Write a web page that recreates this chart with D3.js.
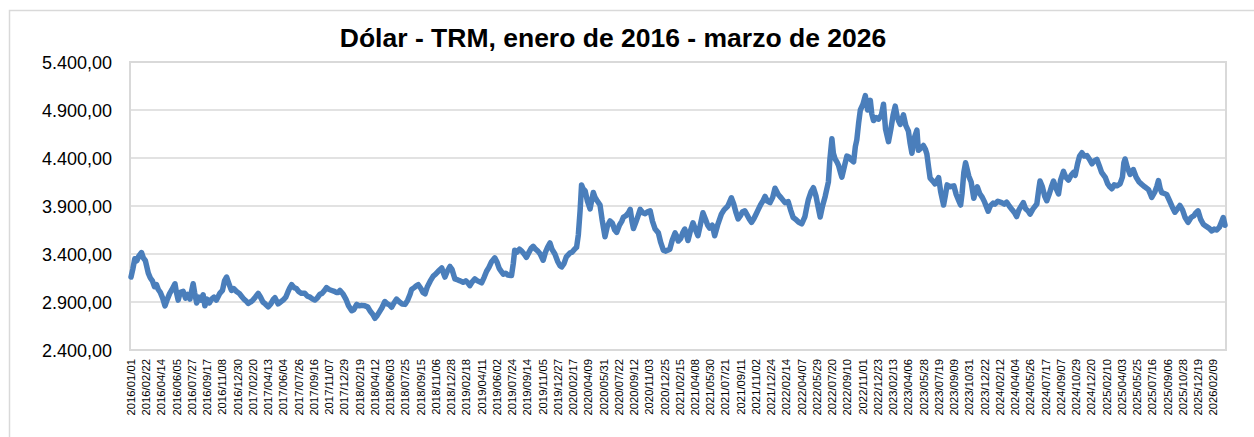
<!DOCTYPE html>
<html><head><meta charset="utf-8">
<script src="https://cdn.jsdelivr.net/npm/d3@7"></script>
<style>body{margin:0;background:#fff}svg{display:block}</style>
</head><body><svg id="c" width="1254" height="437"></svg>
<script>
const title = "Dólar - TRM, enero de 2016 - marzo de 2026";
const yTicks = [2400, 2900, 3400, 3900, 4400, 4900, 5400];
const xTickLabels = [
"2016/01/01","2016/02/22","2016/04/14","2016/06/05","2016/07/27","2016/09/17","2016/11/08","2016/12/30",
"2017/02/20","2017/04/13","2017/06/04","2017/07/26","2017/09/16","2017/11/07","2017/12/29",
"2018/02/19","2018/04/12","2018/06/03","2018/07/25","2018/09/15","2018/11/06","2018/12/28",
"2019/02/18","2019/04/11","2019/06/02","2019/07/24","2019/09/14","2019/11/05","2019/12/27",
"2020/02/17","2020/04/09","2020/05/31","2020/07/22","2020/09/12","2020/11/03","2020/12/25",
"2021/02/15","2021/04/08","2021/05/30","2021/07/21","2021/09/11","2021/11/02","2021/12/24",
"2022/02/14","2022/04/07","2022/05/29","2022/07/20","2022/09/10","2022/11/01","2022/12/23",
"2023/02/13","2023/04/06","2023/05/28","2023/07/19","2023/09/09","2023/10/31","2023/12/22",
"2024/02/12","2024/04/04","2024/05/26","2024/07/17","2024/09/07","2024/10/29","2024/12/20",
"2025/02/10","2025/04/03","2025/05/25","2025/07/16","2025/09/06","2025/10/28","2025/12/19",
"2026/02/09"];
const axisStart = "2016/01/01";
const axisEnd = "2026/03/23";

const trm2016 = [["01-01",3160],["01-07",3240],["01-14",3350],["01-21",3330],["01-28",3380],["02-06",3415],["02-12",3360],["02-19",3330],["02-29",3200],["03-07",3150],["03-14",3120],["03-21",3060],["03-28",3080],["04-03",3030],["04-10",3000],["04-18",2940],["04-26",2860],["05-04",2930],["05-12",2990],["05-20",3030],["05-30",3090],["06-04",3000],["06-10",2920],["06-17",3000],["06-27",3010],["07-05",2940],["07-12",2980],["07-20",2930],["07-31",3090],["08-05",3000],["08-12",2890],["08-20",2950],["08-27",2920],["09-03",2975],["09-09",2860],["09-16",2930],["09-24",2890],["10-02",2930],["10-10",2950],["10-18",2920],["10-25",2960],["10-30",2990],["11-08",3020],["11-15",3120],["11-22",3160],["11-29",3100],["12-05",3050],["12-09",3020],["12-16",3040],["12-26",3010]];
const trm2017 = [["01-04",2990],["01-12",2960],["01-20",2930],["01-28",2910],["02-04",2885],["02-12",2900],["02-20",2920],["02-28",2950],["03-10",2990],["03-18",2950],["03-26",2900],["04-03",2880],["04-13",2850],["04-22",2880],["05-01",2930],["05-06",2945],["05-17",2880],["05-25",2900],["06-03",2920],["06-12",2950],["06-20",3010],["06-26",3050],["07-02",3080],["07-10",3050],["07-18",3040],["07-26",3010],["08-04",2990],["08-16",2990],["08-25",2960],["09-03",2950],["09-12",2930],["09-19",2920],["09-27",2940],["10-06",2980],["10-14",2990],["10-22",3020],["10-29",3050],["11-07",3030],["11-16",3020],["11-25",3010],["12-01",3000],["12-08",3000],["12-14",3020],["12-25",2980]];
const trm2018 = [["01-03",2930],["01-12",2860],["01-23",2810],["01-30",2820],["02-09",2875],["02-18",2860],["02-26",2865],["03-09",2860],["03-18",2850],["03-28",2800],["04-05",2770],["04-12",2730],["04-20",2760],["04-28",2800],["05-06",2840],["05-16",2905],["05-25",2880],["06-01",2870],["06-08",2845],["06-16",2890],["06-25",2930],["07-05",2900],["07-14",2880],["07-24",2875],["08-02",2920],["08-10",2980],["08-15",3030],["08-24",3050],["09-01",3070],["09-07",3080],["09-16",3040],["09-23",3000],["09-30",2985],["10-08",3060],["10-18",3120],["10-28",3170],["11-05",3190],["11-14",3220],["11-26",3255],["12-02",3200],["12-07",3160],["12-15",3220],["12-24",3270],["12-31",3240]];
const trm2019 = [["01-10",3140],["01-20",3130],["01-28",3120],["02-07",3105],["02-16",3120],["02-23",3100],["03-02",3070],["03-10",3110],["03-19",3140],["03-28",3120],["04-04",3110],["04-11",3100],["04-20",3160],["04-28",3220],["05-06",3260],["05-15",3320],["05-26",3360],["06-02",3320],["06-10",3250],["06-17",3220],["06-24",3190],["07-02",3200],["07-10",3180],["07-22",3175],["07-28",3300],["08-02",3440],["08-10",3420],["08-18",3450],["08-26",3430],["09-03",3400],["09-11",3365],["09-20",3420],["09-27",3460],["10-04",3480],["10-12",3450],["10-20",3430],["10-28",3400],["11-07",3335],["11-15",3420],["11-22",3470],["11-30",3515],["12-07",3450],["12-17",3400],["12-27",3320]];
const trm2020 = [["01-03",3280],["01-09",3265],["01-17",3300],["01-25",3370],["02-06",3410],["02-14",3420],["02-22",3450],["02-29",3470],["03-06",3600],["03-12",3850],["03-17",4120],["03-22",4080],["03-29",4060],["04-06",3950],["04-15",3870],["04-22",3980],["04-26",4040],["05-02",3990],["05-08",3960],["05-19",3910],["05-26",3760],["06-05",3580],["06-13",3690],["06-22",3745],["06-30",3720],["07-08",3650],["07-15",3625],["07-24",3700],["08-01",3740],["08-07",3785],["08-16",3800],["08-24",3830],["08-30",3865],["09-05",3740],["09-10",3665],["09-18",3730],["09-26",3800],["10-03",3865],["10-12",3830],["10-20",3820],["10-28",3840],["11-06",3850],["11-14",3740],["11-23",3660],["12-04",3620],["12-12",3520],["12-21",3440],["12-28",3430]];
const trm2021 = [["01-05",3440],["01-12",3450],["01-20",3540],["01-30",3620],["02-04",3590],["02-10",3535],["02-18",3560],["02-25",3620],["03-04",3660],["03-10",3600],["03-15",3540],["03-24",3650],["04-01",3725],["04-10",3650],["04-18",3590],["04-26",3700],["05-05",3830],["05-14",3760],["05-21",3700],["05-28",3670],["06-06",3700],["06-14",3590],["06-24",3700],["07-07",3815],["07-16",3860],["07-29",3900],["08-10",3985],["08-18",3920],["08-26",3830],["09-02",3765],["09-10",3800],["09-17",3840],["09-25",3850],["10-04",3800],["10-11",3760],["10-18",3730],["10-26",3770],["11-03",3820],["11-10",3865],["11-19",3920],["11-27",3960],["12-03",4000],["12-11",3950],["12-20",3935],["12-29",3990]];
const trm2022 = [["01-06",4085],["01-17",4020],["01-27",3985],["02-09",3935],["02-20",3945],["02-28",3860],["03-09",3780],["03-18",3760],["03-28",3730],["04-07",3715],["04-18",3790],["04-25",3900],["04-30",3970],["05-09",4050],["05-17",4090],["05-26",4000],["06-02",3890],["06-09",3785],["06-17",3900],["06-26",4000],["07-07",4150],["07-12",4380],["07-19",4600],["07-24",4450],["07-30",4390],["08-05",4360],["08-11",4320],["08-17",4250],["08-22",4200],["09-01",4330],["09-08",4420],["09-15",4410],["09-23",4380],["10-01",4360],["10-07",4520],["10-12",4590],["10-18",4760],["10-24",4900],["11-02",4960],["11-10",5050],["11-18",4900],["11-27",5000],["12-02",4860],["12-08",4790],["12-17",4820],["12-25",4805]];
const trm2023 = [["01-04",4850],["01-11",4960],["01-18",4700],["01-28",4570],["02-05",4700],["02-13",4850],["02-20",4940],["02-26",4840],["03-03",4790],["03-09",4750],["03-20",4850],["03-28",4740],["04-06",4680],["04-12",4550],["04-18",4450],["04-25",4600],["05-05",4690],["05-10",4480],["05-18",4500],["05-27",4530],["06-03",4490],["06-08",4440],["06-14",4300],["06-19",4190],["06-28",4160],["07-06",4130],["07-13",4170],["07-18",4195],["07-25",4050],["08-04",3910],["08-10",4010],["08-16",4120],["08-25",4100],["09-08",4110],["09-16",4020],["09-24",3960],["10-01",3910],["10-06",4030],["10-12",4250],["10-18",4350],["10-29",4210],["11-06",4150],["11-15",3980],["11-21",4050],["11-27",4100],["12-05",4030],["12-14",3990],["12-22",3940]];
const trm2024 = [["01-03",3845],["01-10",3900],["01-20",3930],["01-26",3920],["02-05",3950],["02-18",3935],["02-27",3920],["03-06",3940],["03-15",3900],["03-25",3860],["04-02",3830],["04-09",3790],["04-17",3860],["04-25",3900],["05-02",3935],["05-10",3870],["05-18",3850],["05-25",3815],["06-04",3870],["06-17",3920],["06-24",4080],["06-28",4160],["07-06",4100],["07-14",4000],["07-21",3955],["07-30",4030],["08-07",4110],["08-13",4160],["08-22",4080],["08-30",4025],["09-06",4170],["09-16",4260],["09-24",4200],["10-03",4170],["10-12",4220],["10-20",4250],["10-26",4220],["11-03",4340],["11-10",4420],["11-18",4455],["11-26",4420],["12-05",4425],["12-13",4390],["12-22",4340],["12-30",4370]];
const trm2025 = [["01-08",4385],["01-16",4320],["01-24",4250],["02-06",4195],["02-14",4130],["02-21",4100],["02-28",4080],["03-08",4120],["03-17",4110],["03-28",4130],["04-05",4200],["04-10",4350],["04-14",4390],["04-22",4300],["05-01",4230],["05-07",4250],["05-12",4280],["05-22",4200],["06-01",4150],["06-10",4125],["06-20",4100],["07-03",4070],["07-10",4020],["07-14",3990],["07-25",4050],["08-01",4110],["08-06",4165],["08-12",4080],["08-17",4040],["08-26",4030],["09-03",4020],["09-12",3960],["09-22",3890],["10-01",3835],["10-10",3870],["10-18",3905],["10-27",3860],["11-05",3780],["11-15",3730],["11-25",3780],["12-05",3800],["12-12",3830],["12-19",3850],["12-28",3760]];
const trm2026 = [["01-06",3710],["01-15",3690],["01-25",3670],["02-04",3640],["02-12",3660],["02-21",3650],["03-02",3680],["03-10",3740],["03-15",3780],["03-21",3700]];

const byYear = {2016:trm2016,2017:trm2017,2018:trm2018,2019:trm2019,2020:trm2020,2021:trm2021,2022:trm2022,2023:trm2023,2024:trm2024,2025:trm2025,2026:trm2026};
const parse = s => { const p = s.split(/[-\/]/).map(Number); return new Date(Date.UTC(p[0], p[1]-1, p[2])); };
const series = [];
Object.keys(byYear).forEach(y => byYear[y].forEach(([md, v]) => series.push({date: parse(y + "-" + md), value: v})));

const svg = d3.select("#c");
const L = 130, R = 1226, T = 62, B = 350;

// outer frame
svg.append("rect").attr("x", 9.5).attr("y", 10.5).attr("width", 1300).attr("height", 600)
  .attr("fill", "#fff").attr("stroke", "#d9d9d9").attr("stroke-width", 1.5);

const x = d3.scaleUtc().domain([parse(axisStart), parse(axisEnd)]).range([131, 1225.6]);
const y = d3.scaleLinear().domain([2400, 5400]).range([B, T]);

const loc = d3.formatLocale({decimal: ",", thousands: ".", grouping: [3], currency: ["", ""]});
const fmt = loc.format(",.2f");

// gridlines
svg.append("g").selectAll("line").data(yTicks).join("line")
  .attr("x1", L).attr("x2", R).attr("y1", d => y(d)).attr("y2", d => y(d))
  .attr("stroke", "#d9d9d9").attr("stroke-width", 1.5);

// plot border
svg.append("rect").attr("x", L).attr("y", T).attr("width", R - L).attr("height", B - T)
  .attr("fill", "none").attr("stroke", "#d9d9d9").attr("stroke-width", 2);

// y labels
svg.append("g").selectAll("text").data(yTicks).join("text")
  .attr("x", 112).attr("y", d => y(d) + 7)
  .attr("text-anchor", "end").attr("font-family", "'Liberation Sans', Arial, sans-serif")
  .attr("font-size", 18).attr("fill", "#000").text(d => fmt(d));

// x labels
svg.append("g").selectAll("text").data(xTickLabels).join("text")
  .attr("transform", d => `translate(${x(parse(d)) + 4},${359}) rotate(-90)`)
  .attr("text-anchor", "end").attr("font-family", "'Liberation Sans', Arial, sans-serif")
  .attr("font-size", 11.3).attr("fill", "#000").text(d => d);

// line
const line = d3.line().x(d => x(d.date)).y(d => y(d.value)).curve(d3.curveLinear);
svg.append("path").datum(series).attr("d", line)
  .attr("fill", "none").attr("stroke", "#4a7ebb").attr("stroke-width", 5.5)
  .attr("stroke-linejoin", "round").attr("stroke-linecap", "round");

// title
svg.append("text").attr("x", 613).attr("y", 47).attr("text-anchor", "middle")
  .attr("font-family", "'Liberation Sans', Arial, sans-serif").attr("font-weight", "bold")
  .attr("font-size", 26.5).attr("fill", "#000").text(title);
</script></body></html>
